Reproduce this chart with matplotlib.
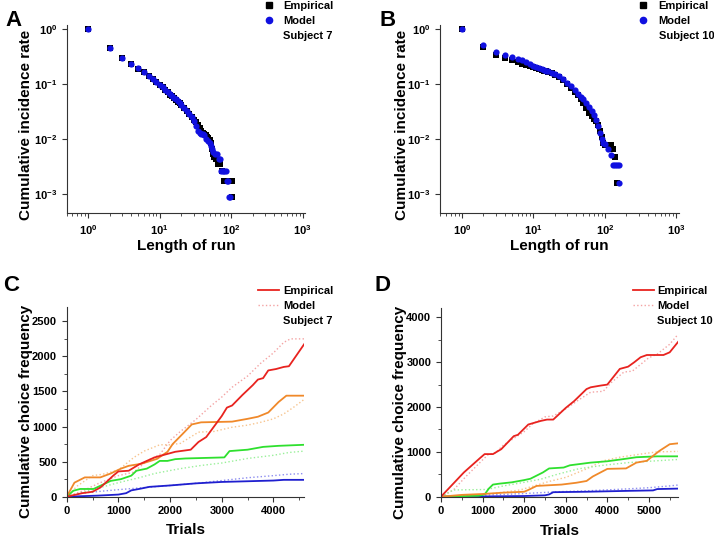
import numpy as np
import matplotlib.pyplot as plt
from matplotlib.lines import Line2D
from matplotlib.ticker import MultipleLocator, LogLocator, NullLocator, NullFormatter

plt.rcParams['font.family'] = ['Liberation Sans', 'DejaVu Sans']
plt.rcParams['font.weight'] = 'bold'
plt.rcParams['mathtext.fontset'] = 'custom'
plt.rcParams['mathtext.rm'] = 'Liberation Sans:bold'
plt.rcParams['mathtext.bf'] = 'Liberation Sans:bold'
plt.rcParams['mathtext.default'] = 'bf'

# ---- panel A : subject 7, run length distribution
a_emp_x = [1, 2, 3, 4, 5, 6, 7, 8, 9, 10, 11, 12, 13, 14, 15, 16, 17, 18, 19, 20,
           22, 24, 26, 28, 30, 32, 34, 36, 38, 40, 42, 44, 46, 48, 50, 52, 54, 56,
           58, 62, 66, 70, 75, 78, 85, 95, 102, 103]
a_emp_y = [1.0, 0.45, 0.30, 0.23, 0.19, 0.165, 0.142, 0.125, 0.11, 0.097, 0.087,
           0.078, 0.070, 0.064, 0.059, 0.055, 0.051, 0.047, 0.044, 0.041,
           0.036, 0.032, 0.028, 0.025, 0.022, 0.020, 0.018, 0.0155, 0.014, 0.013,
           0.012, 0.0115, 0.011, 0.0105, 0.0095, 0.0085, 0.0065, 0.0052,
           0.0047, 0.0043, 0.0035, 0.0035, 0.0026, 0.0017, 0.0017, 0.0017, 0.0017, 0.00087]
a_mod_x = [1, 2, 3, 4, 5, 6, 7, 8, 9, 10, 11, 12, 13, 14, 15, 16, 17, 18, 19, 20,
           22, 24, 26, 28, 30, 32, 34, 36, 38, 40, 42, 45, 48, 50, 52, 54, 56,
           60, 64, 68, 70, 72, 76, 80, 84, 86, 90, 92, 95]
a_mod_y = [1.0, 0.45, 0.30, 0.23, 0.195, 0.165, 0.14, 0.122, 0.108, 0.096, 0.086,
           0.078, 0.071, 0.065, 0.060, 0.056, 0.052, 0.048, 0.045, 0.042,
           0.037, 0.032, 0.028, 0.025, 0.021, 0.017, 0.014, 0.0125, 0.012, 0.012,
           0.0115, 0.010, 0.009, 0.0085, 0.0075, 0.0065, 0.0057,
           0.0052, 0.0052, 0.0043, 0.0043, 0.0026, 0.0026, 0.0026, 0.0026, 0.0017,
           0.0017, 0.00087, 0.00087]

# ---- panel B : subject 10
b_emp_x = [1, 2, 3, 4, 5, 6, 7, 8, 9, 10, 11, 12, 13, 14, 15, 16, 18, 20, 23, 26,
           30, 34, 38, 42, 46, 50, 55, 60, 65, 70, 75, 80, 85, 90, 95, 100, 110,
           120, 130, 140, 150]
b_emp_y = [1.0, 0.46, 0.34, 0.30, 0.27, 0.25, 0.23, 0.22, 0.21, 0.205, 0.197,
           0.19, 0.182, 0.175, 0.17, 0.165, 0.155, 0.148, 0.135, 0.12,
           0.10, 0.085, 0.072, 0.062, 0.052, 0.044, 0.036, 0.030, 0.026, 0.023,
           0.021, 0.018, 0.014, 0.011, 0.0085, 0.0078, 0.0078, 0.0078, 0.0065,
           0.0047, 0.0016]
b_mod_x = [1, 2, 3, 4, 5, 6, 7, 8, 9, 10, 11, 12, 13, 14, 15, 16, 18, 20, 23, 26,
           30, 34, 38, 42, 46, 50, 55, 60, 65, 70, 75, 80, 85, 90, 95, 100, 110,
           120, 130, 140, 150, 155, 160]
b_mod_y = [1.0, 0.50, 0.38, 0.335, 0.31, 0.28, 0.27, 0.25, 0.235, 0.215, 0.205,
           0.195, 0.187, 0.18, 0.175, 0.17, 0.16, 0.15, 0.14, 0.125,
           0.105, 0.09, 0.078, 0.066, 0.058, 0.052, 0.045, 0.038, 0.032, 0.027,
           0.022, 0.017, 0.013, 0.010, 0.0085, 0.0080, 0.0065, 0.0050, 0.0033,
           0.0033, 0.0033, 0.0033, 0.0016]

# ---- panel C : subject 7, cumulative choices (red, orange, green, blue)
c_red_emp_t = [0, 300, 500, 650, 800, 900, 1000, 1200, 1400, 1700, 1950, 2100, 2200,
               2400, 2550, 2700, 2850, 3000, 3100, 3200, 3400, 3600, 3700, 3800,
               3900, 4050, 4200, 4300, 4600]
c_red_emp_v = [0, 50, 70, 130, 230, 300, 360, 370, 460, 560, 610, 640, 650,
               670, 780, 850, 1000, 1150, 1270, 1300, 1450, 1590, 1670, 1690,
               1800, 1820, 1850, 1860, 2180]
c_red_mod_t = [0, 300, 650, 1000, 1300, 1550, 1800, 2000, 2200, 2500, 2800, 3000,
               3200, 3500, 3750, 4000, 4200, 4330, 4600]
c_red_mod_v = [0, 80, 200, 300, 350, 510, 600, 800, 930, 1100, 1300, 1420,
               1560, 1720, 1900, 2050, 2200, 2250, 2250]
c_org_emp_t = [0, 150, 350, 650, 850, 1050, 1200, 1450, 1750, 1950, 2050, 2250,
               2420, 2600, 3200, 3500, 3700, 3900, 4100, 4250, 4600]
c_org_emp_v = [0, 200, 275, 275, 330, 400, 440, 470, 540, 640, 750, 900,
               1030, 1060, 1070, 1110, 1140, 1200, 1350, 1440, 1440]
c_org_mod_t = [0, 200, 500, 700, 1000, 1300, 1500, 1800, 2000, 2200, 2550, 2850,
               3200, 3500, 3750, 4000, 4200, 4400, 4600]
c_org_mod_v = [0, 150, 300, 320, 380, 560, 650, 740, 740, 760, 920, 930,
               990, 1020, 1060, 1110, 1180, 1280, 1390]
c_grn_emp_t = [0, 130, 260, 520, 650, 850, 1050, 1250, 1350, 1550, 1700, 1800,
               1950, 2100, 2300, 3050, 3150, 3500, 3800, 4100, 4600]
c_grn_emp_v = [0, 85, 110, 110, 155, 225, 250, 300, 370, 400, 460, 510,
               510, 535, 545, 560, 650, 670, 710, 725, 740]
c_grn_mod_t = [0, 300, 650, 1000, 1400, 1700, 1800, 2200, 2600, 3000, 3500, 4000,
               4300, 4600]
c_grn_mod_v = [0, 60, 130, 200, 270, 330, 345, 400, 445, 480, 545, 590, 630, 650]
c_blu_emp_t = [0, 600, 1000, 1150, 1250, 1400, 1600, 2000, 2500, 3000, 3500, 4000,
               4200, 4600]
c_blu_emp_v = [0, 15, 30, 50, 90, 110, 140, 160, 190, 210, 220, 230, 240, 240]
c_blu_mod_t = [0, 300, 700, 1000, 1500, 2000, 2500, 3000, 3500, 4000, 4300, 4600]
c_blu_mod_v = [0, 50, 80, 100, 130, 160, 190, 230, 270, 300, 320, 330]

# ---- panel D : subject 10
d_red_emp_t = [0, 550, 950, 1050, 1250, 1450, 1750, 1850, 2100, 2250, 2400, 2550,
               2700, 3000, 3200, 3500, 3600, 3850, 4000, 4300, 4500, 4650, 4800,
               4950, 5350, 5500, 5700]
d_red_emp_v = [0, 540, 870, 950, 950, 1060, 1350, 1380, 1610, 1650, 1690, 1720,
               1720, 1980, 2130, 2400, 2440, 2480, 2500, 2850, 2900, 3000, 3110,
               3160, 3160, 3220, 3450]
d_red_mod_t = [0, 300, 600, 1000, 1150, 1300, 1500, 1800, 2000, 2200, 2500, 2700,
               3000, 3300, 3600, 3900, 4100, 4400, 4600, 4800, 5000, 5200, 5500, 5700]
d_red_mod_v = [0, 150, 450, 820, 950, 970, 1150, 1330, 1450, 1620, 1780, 1800,
               1960, 2150, 2330, 2350, 2550, 2780, 2800, 2950, 3100, 3180, 3400, 3620]
d_org_emp_t = [0, 500, 1000, 1500, 2000, 2100, 2300, 2900, 3250, 3500, 3650, 4000,
               4450, 4700, 4950, 5250, 5500, 5700]
d_org_emp_v = [0, 40, 60, 90, 110, 150, 240, 270, 310, 350, 450, 620,
               630, 760, 800, 1020, 1170, 1190]
d_org_mod_t = [0, 1000, 1500, 1900, 2200, 2600, 3000, 3500, 3900, 4300, 4800, 5200, 5700]
d_org_mod_v = [0, 40, 100, 150, 230, 340, 430, 620, 800, 880, 950, 1000, 1010]
d_grn_emp_t = [0, 900, 1050, 1150, 1250, 1400, 1700, 2000, 2150, 2300, 2450, 2600,
               2950, 3100, 3600, 4000, 4400, 4700, 5200, 5700]
d_grn_emp_v = [0, 20, 50, 180, 270, 290, 320, 370, 400, 470, 540, 630,
               650, 700, 760, 790, 840, 880, 900, 900]
d_grn_mod_t = [0, 300, 1100, 1500, 2000, 2400, 2800, 3300, 3900, 4500, 5000, 5700]
d_grn_mod_v = [0, 150, 160, 240, 320, 390, 500, 620, 700, 760, 790, 830]
d_blu_emp_t = [0, 1000, 2000, 2500, 2600, 2700, 3500, 4500, 5100, 5200, 5700]
d_blu_emp_v = [0, 5, 15, 30, 50, 100, 110, 130, 140, 170, 180]
d_blu_mod_t = [0, 1000, 2000, 2800, 3500, 4400, 5000, 5500, 5700]
d_blu_mod_v = [0, 30, 70, 110, 130, 170, 200, 240, 260]

RED, ORG, GRN, BLU = '#e8231f', '#f0892a', '#2ee02e', '#1f1fcf'
LRED, LORG, LGRN, LBLU = '#f4a3a3', '#f7c48e', '#9af09a', '#8d8df0'

fig = plt.figure(figsize=(7.14, 5.38), dpi=100)
axA = fig.add_axes([0.0934, 0.6035, 0.334, 0.350])
axB = fig.add_axes([0.6167, 0.6035, 0.334, 0.350])
axC = fig.add_axes([0.0934, 0.0768, 0.333, 0.352])
axD = fig.add_axes([0.6176, 0.0768, 0.332, 0.350])


def style(ax):
    for s in ['top', 'right']:
        ax.spines[s].set_visible(False)
    for s in ['left', 'bottom']:
        ax.spines[s].set_linewidth(0.8)
        ax.spines[s].set_color('#333333')
    ax.tick_params(which='major', direction='out', length=3.5, width=0.8,
                   labelsize=8, color='#333333')
    ax.tick_params(which='minor', direction='out', length=2, width=0.6, color='#333333')


def log_panel(ax, ex, ey, mx, my, ylab_x, xlab_y):
    ax.scatter(ex, ey, marker='s', s=14, color='black', linewidths=0, zorder=2)
    ax.scatter(mx, my, marker='o', s=20, color='#1010e0', linewidths=0, zorder=3)
    ax.set_xscale('log')
    ax.set_yscale('log')
    ax.set_xlim(0.5, 1080)
    ax.set_ylim(4.4e-4, 1.18)
    ax.xaxis.set_major_locator(LogLocator(base=10, numticks=10))
    ax.xaxis.set_minor_locator(LogLocator(base=10, subs=np.arange(2, 10), numticks=10))
    ax.xaxis.set_minor_formatter(NullFormatter())
    ax.yaxis.set_major_locator(LogLocator(base=10, numticks=10))
    ax.yaxis.set_minor_locator(NullLocator())
    style(ax)
    ax.set_xlabel('Length of run', fontsize=11, fontweight='bold')
    ax.set_ylabel('Cumulative incidence rate', fontsize=11, fontweight='bold')
    ax.yaxis.set_label_coords(ylab_x, 0.47)
    ax.xaxis.set_label_coords(0.5, xlab_y)


def line_panel(ax, series, xmax, ymax, ymaj, ymin, ylab_x, xlab_y):
    for t, v, c, ls, lw in series:
        ax.plot(t, v, color=c, ls=ls, lw=lw)
    ax.set_xlim(0, xmax)
    ax.set_ylim(0, ymax)
    ax.xaxis.set_major_locator(MultipleLocator(1000))
    ax.xaxis.set_minor_locator(MultipleLocator(500))
    ax.yaxis.set_major_locator(MultipleLocator(ymaj))
    ax.yaxis.set_minor_locator(MultipleLocator(ymin))
    style(ax)
    ax.set_xlabel('Trials', fontsize=11, fontweight='bold')
    ax.set_ylabel('Cumulative choice frequency', fontsize=11, fontweight='bold')
    ax.yaxis.set_label_coords(ylab_x, 0.45)
    ax.xaxis.set_label_coords(0.5, xlab_y)


log_panel(axA, a_emp_x, a_emp_y, a_mod_x, a_mod_y, -0.143, -0.138)
log_panel(axB, b_emp_x, b_emp_y, b_mod_x, b_mod_y, -0.131, -0.138)

c_series = [
    (c_red_mod_t, c_red_mod_v, LRED, ':', 1.0), (c_org_mod_t, c_org_mod_v, LORG, ':', 1.0),
    (c_grn_mod_t, c_grn_mod_v, LGRN, ':', 1.0), (c_blu_mod_t, c_blu_mod_v, LBLU, ':', 1.0),
    (c_blu_emp_t, c_blu_emp_v, BLU, '-', 1.3), (c_grn_emp_t, c_grn_emp_v, GRN, '-', 1.3),
    (c_org_emp_t, c_org_emp_v, ORG, '-', 1.3), (c_red_emp_t, c_red_emp_v, RED, '-', 1.3),
]
d_series = [
    (d_red_mod_t, d_red_mod_v, LRED, ':', 1.0), (d_org_mod_t, d_org_mod_v, LORG, ':', 1.0),
    (d_grn_mod_t, d_grn_mod_v, LGRN, ':', 1.0), (d_blu_mod_t, d_blu_mod_v, LBLU, ':', 1.0),
    (d_blu_emp_t, d_blu_emp_v, BLU, '-', 1.3), (d_grn_emp_t, d_grn_emp_v, GRN, '-', 1.3),
    (d_org_emp_t, d_org_emp_v, ORG, '-', 1.3), (d_red_emp_t, d_red_emp_v, RED, '-', 1.3),
]
line_panel(axC, c_series, 4600, 2700, 500, 250, -0.143, -0.137)
line_panel(axD, d_series, 5700, 4200, 1000, 500, -0.143, -0.143)

# legends
blank = Line2D([], [], ls='none')
sq = Line2D([], [], marker='s', color='black', ls='none', ms=4)
dot = Line2D([], [], marker='o', color='#1010e0', ls='none', ms=4.5)
solid = Line2D([], [], color=RED, lw=1.3)
dotted = Line2D([], [], color=LRED, lw=1.0, ls=':')

leg_kw = dict(frameon=False, fontsize=8, borderpad=0, borderaxespad=0,
              labelspacing=0.45, bbox_transform=fig.transFigure, loc='upper left')
fig.legend([sq, dot, blank], ['Empirical', 'Model', 'Subject 7'],
           bbox_to_anchor=(0.369, 0.998), handlelength=1.0, handletextpad=0.8, **leg_kw)
fig.legend([sq, dot, blank], ['Empirical', 'Model', 'Subject 10'],
           bbox_to_anchor=(0.893, 0.998), handlelength=1.0, handletextpad=0.9, **leg_kw)
fig.legend([solid, dotted, blank], ['Empirical', 'Model', 'Subject 7'],
           bbox_to_anchor=(0.361, 0.468), handlelength=1.9, handletextpad=0.35, **leg_kw)
fig.legend([solid, dotted, blank], ['Empirical', 'Model', 'Subject 10'],
           bbox_to_anchor=(0.8866, 0.468), handlelength=1.9, handletextpad=0.3, **leg_kw)

for lab, x, y in [('A', 0.008, 0.962), ('B', 0.532, 0.962),
                  ('C', 0.005, 0.47), ('D', 0.525, 0.47)]:
    fig.text(x, y, lab, fontsize=16, fontweight='bold', va='center', ha='left')

fig.savefig('out.png', dpi=100)
